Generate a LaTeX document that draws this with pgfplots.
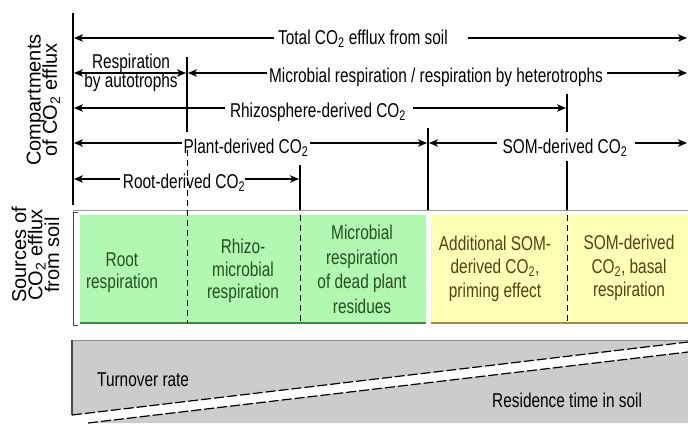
\documentclass[border=0pt]{standalone}
\usepackage{pgfplots}
\pgfplotsset{compat=1.18}
\usepackage{fontspec}
\setmainfont{Liberation Sans}
\newfontfamily\nar[FakeStretch=0.77]{Liberation Sans}
\usetikzlibrary{arrows.meta}
\definecolor{gfill}{RGB}{178,247,178}
\definecolor{yfill}{RGB}{255,255,181}
\definecolor{gedge}{RGB}{60,140,60}
\definecolor{yedge}{RGB}{160,140,70}
\definecolor{gtext}{RGB}{35,80,35}
\definecolor{ytext}{RGB}{85,65,20}
\definecolor{bfill}{RGB}{204,204,204}
\begin{document}
\begin{tikzpicture}[
 lab/.style={font=\nar\fontsize{20}{22}\selectfont, anchor=base, inner sep=0pt},
 vlab/.style={font=\fontsize{20}{22}\selectfont, anchor=base, rotate=90, inner sep=0pt},
 arr/.style={line width=1.3pt, -{Stealth[length=9pt,width=7.5pt,inset=2.5pt]}},
 darr/.style={line width=1.3pt, {Stealth[length=9pt,width=7.5pt,inset=2.5pt]}-{Stealth[length=9pt,width=7.5pt,inset=2.5pt]}},
 vln/.style={line width=1.3pt, black},
 dln/.style={line width=1pt, black, dash pattern=on 6pt off 4pt},
]
\begin{axis}[width=688pt,height=423pt,scale only axis,
  xmin=0,xmax=688,ymin=0,ymax=423,y dir=reverse,
  axis lines=none,clip=false,no markers]

% ---- boxes ----
\addplot[fill=gfill, draw=none] coordinates {(80,215) (426,215) (426,323) (80,323)} -- cycle;
\addplot[fill=yfill, draw=none] coordinates {(431,215) (688,215) (688,323) (431,323)} -- cycle;
\addplot[gedge, line width=1.5pt] coordinates {(80,323) (426,323)};
\addplot[yedge, line width=1.5pt] coordinates {(431,323) (688,323)};

% ---- bottom gray band ----
\addplot[fill=bfill, draw=none] coordinates {(72,340) (688,340) (688,342) (72,415)} -- cycle;
\addplot[fill=bfill, draw=none] coordinates {(88,423) (688,352) (688,423)} -- cycle;
\addplot[black!45, line width=0.9pt] coordinates {(72,340) (688,340)};
\addplot[black!70, line width=1.2pt] coordinates {(72,340) (72,415)};
\addplot[black, line width=1.2pt, dash pattern=on 10pt off 3pt] coordinates {(72,415) (688,342)};
\addplot[black, line width=1.2pt, dash pattern=on 10pt off 3pt] coordinates {(88,423) (688,352)};

% ---- frame lines ----
\addplot[vln] coordinates {(73,13) (73,205)};
\addplot[black!75, line width=0.9pt] coordinates {(78,212) (73,212) (73,325) (78,325)};
\addplot[black!40, line width=0.8pt] coordinates {(73,210) (688,210)};

% ---- vertical separators ----
\addplot[vln] coordinates {(187,57) (187,132)};
\addplot[dln] coordinates {(187,150) (187,323)};
\addplot[vln] coordinates {(300,165) (300,210)};
\addplot[dln] coordinates {(300,215) (300,323)};
\addplot[vln] coordinates {(428,128) (428,210)};
\addplot[vln] coordinates {(567,94) (567,132)};
\addplot[vln] coordinates {(567,161) (567,210)};
\addplot[dln] coordinates {(567,215) (567,323)};

% ---- arrows ----
\addplot[arr] coordinates {(274,38) (74,38)};
\addplot[arr] coordinates {(468,38) (687,38)};
\addplot[darr] coordinates {(74,73) (186,73)};
\addplot[arr] coordinates {(267,73) (188,73)};
\addplot[arr] coordinates {(607,73) (687,73)};
\addplot[arr] coordinates {(225,108) (74,108)};
\addplot[arr] coordinates {(413,108) (566,108)};
\addplot[arr] coordinates {(182,143) (74,143)};
\addplot[arr] coordinates {(310,143) (427,143)};
\addplot[arr] coordinates {(497,143) (429,143)};
\addplot[arr] coordinates {(635,143) (687,143)};
\addplot[arr] coordinates {(120,179) (74,179)};
\addplot[arr] coordinates {(245,179) (299,179)};

% ---- arrow texts ----
\node[lab] at (axis cs:363,44) {Total CO\textsubscript{2} efflux from soil};
\node[lab] at (axis cs:131,68) {Respiration};
\node[lab] at (axis cs:131,87) {by autotrophs};
\node[lab] at (axis cs:436,82) {Microbial respiration / respiration by heterotrophs};
\node[lab] at (axis cs:318,117) {Rhizosphere-derived CO\textsubscript{2}};
\node[lab] at (axis cs:246,153) {Plant-derived CO\textsubscript{2}};
\node[lab] at (axis cs:565,153) {SOM-derived CO\textsubscript{2}};
\node[lab] at (axis cs:184,188) {Root-derived CO\textsubscript{2}};

% ---- box texts ----
\node[lab, text=gtext] at (axis cs:122,266) {Root};
\node[lab, text=gtext] at (axis cs:122,288) {respiration};
\node[lab, text=gtext] at (axis cs:243,253) {Rhizo-};
\node[lab, text=gtext] at (axis cs:243,276) {microbial};
\node[lab, text=gtext] at (axis cs:243,298) {respiration};
\node[lab, text=gtext] at (axis cs:362,239) {Microbial};
\node[lab, text=gtext] at (axis cs:362,264) {respiration};
\node[lab, text=gtext] at (axis cs:362,288) {of dead plant};
\node[lab, text=gtext] at (axis cs:362,313) {residues};
\node[lab, text=ytext] at (axis cs:495,250) {Additional SOM-};
\node[lab, text=ytext] at (axis cs:495,273) {derived CO\textsubscript{2},};
\node[lab, text=ytext] at (axis cs:495,297) {priming effect};
\node[lab, text=ytext] at (axis cs:629,249) {SOM-derived};
\node[lab, text=ytext] at (axis cs:629,273) {CO\textsubscript{2}, basal};
\node[lab, text=ytext] at (axis cs:629,296) {respiration};

% ---- bottom texts ----
\node[lab, anchor=base west] at (axis cs:97,386) {Turnover rate};
\node[lab, anchor=base west] at (axis cs:492,407) {Residence time in soil};

% ---- side labels ----
\node[vlab] at (axis cs:40.5,100) {Compartments};
\node[vlab] at (axis cs:57,100) {of CO\textsubscript{2} efflux};
\node[vlab] at (axis cs:26,255) {Sources of};
\node[vlab] at (axis cs:42.5,255) {CO\textsubscript{2} efflux};
\node[vlab] at (axis cs:59,255) {from soil};
\end{axis}
\pgfresetboundingbox
\path (current axis.south west) rectangle (current axis.north east);
\end{tikzpicture}
\end{document}
